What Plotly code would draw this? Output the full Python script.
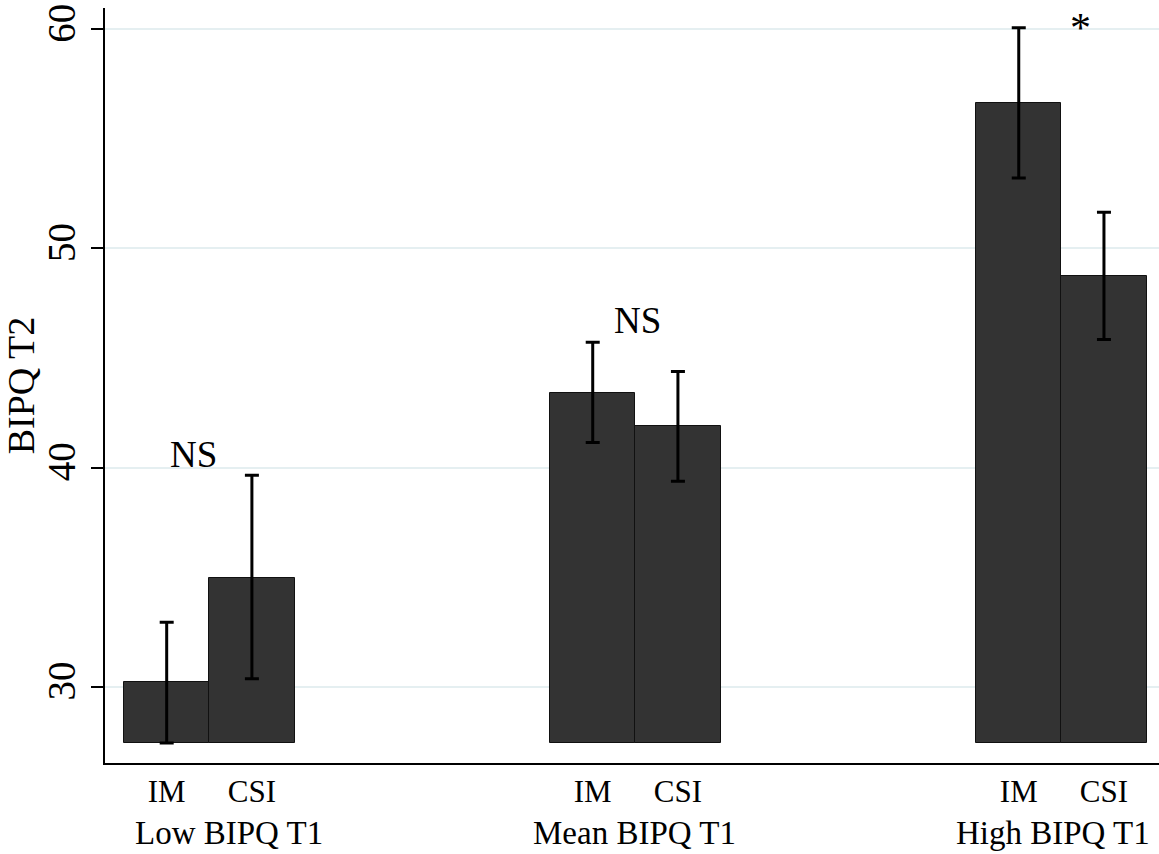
import plotly.graph_objects as go

groups = ["Low BIPQ T1", "Mean BIPQ T1", "High BIPQ T1"]
series = ["IM", "CSI"]
means = {"IM": [30.21, 43.42, 56.63], "CSI": [34.98, 41.89, 48.72]}
upper = {"IM": [32.95, 45.72, 60.06], "CSI": [39.65, 44.38, 51.64]}
lower = {"IM": [27.44, 41.14, 53.21], "CSI": [30.37, 39.38, 45.84]}
y_ticks = [30, 40, 50, 60]
notes = ["NS", "NS", "*"]

GROUP_STEP = 5  # bar slots per group (2 bars + gap of 3)
base = min(min(v) for v in lower.values())

FONT = "Liberation Serif, Times New Roman, serif"

fig = go.Figure()
xs_all, labels_all = [], []
for si, s in enumerate(series):
    xs = [gi * GROUP_STEP + si for gi in range(len(groups))]
    xs_all += xs
    labels_all += [s] * len(groups)
    fig.add_trace(go.Bar(
        x=xs, y=[m - base for m in means[s]], base=base, width=1,
        marker=dict(color="#333333", line=dict(color="#111111", width=1)),
        name=s, showlegend=False, hoverinfo="skip"))
for si, s in enumerate(series):
    xs = [gi * GROUP_STEP + si for gi in range(len(groups))]
    fig.add_trace(go.Scatter(
        x=xs, y=means[s], mode="markers", marker=dict(size=1, opacity=0),
        error_y=dict(type="data", symmetric=False,
                     array=[u - m for u, m in zip(upper[s], means[s])],
                     arrayminus=[m - l for m, l in zip(means[s], lower[s])],
                     color="black", thickness=3, width=7),
        showlegend=False, hoverinfo="skip"))

# group labels
label_shift = [20, -1, -8]
for gi, g in enumerate(groups):
    fig.add_annotation(x=gi * GROUP_STEP + 0.5, y=0, xref="x", yref="paper",
                       yshift=-70, xshift=label_shift[gi], yanchor="middle",
                       showarrow=False,
                       text=g, font=dict(family=FONT, size=33, color="black"))

# significance notes
note_pos = [(0.31, 40.6), (5.53, 46.7), (10.72, 60.05)]
for t, (nx, ny) in zip(notes, note_pos):
    fig.add_annotation(x=nx, y=ny, xref="x", yref="y", showarrow=False,
                       yanchor="middle", text=t,
                       font=dict(family=FONT, size=37 if t != "*" else 42, color="black"))

fig.update_layout(
    width=1159, height=854,
    margin=dict(l=105, r=0, t=8, b=91),
    paper_bgcolor="white", plot_bgcolor="white",
    font=dict(family=FONT, color="black"),
    bargap=0,
)
fig.update_xaxes(
    range=[-0.724, 11.646], tickvals=xs_all, ticktext=labels_all,
    showgrid=False, zeroline=False, showline=True, linecolor="black", linewidth=2,
    ticks="", tickfont=dict(family=FONT, size=31, color="black"), automargin=False,
)
fig.update_yaxes(
    range=[26.53, 60.96], tickvals=y_ticks, tickangle=-90,
    showgrid=True, gridcolor="#E5EFF1", gridwidth=2, zeroline=False,
    showline=True, linecolor="black", linewidth=2,
    ticks="outside", ticklen=12, tickwidth=2, tickcolor="black",
    tickfont=dict(family=FONT, size=39, color="black"),
    title=dict(text="BIPQ T2", font=dict(family=FONT, size=38, color="black"), standoff=8),
    automargin=False,
)

fig.write_html("out.html", config={"displayModeBar": False},
               post_script="document.body.style.margin='0';document.body.style.overflow='hidden';")
